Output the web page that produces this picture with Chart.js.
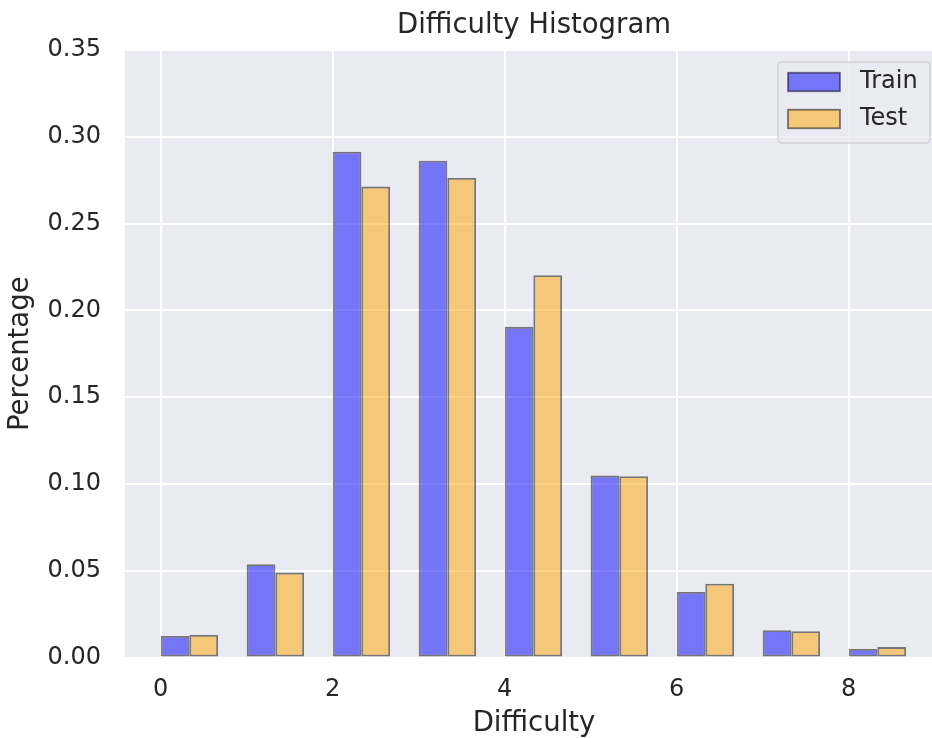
<!DOCTYPE html>
<html>
<head>
<meta charset="utf-8">
<script src="https://cdn.jsdelivr.net/npm/chart.js@4/dist/chart.umd.min.js"></script>
<style>
  html, body { margin: 0; padding: 0; background: #ffffff; overflow: hidden; }
  #wrap { width: 943px; height: 740px; }
</style>
</head>
<body>
<div id="wrap"><canvas id="c" width="943" height="740"></canvas></div>
<script>
// ---- data ----
const bins = [0, 1, 2, 3, 4, 5, 6, 7, 8];
const trainValues = [0.0124, 0.0537, 0.2914, 0.2862, 0.1905, 0.1048, 0.0377, 0.0157, 0.0049];
const testValues  = [0.0130, 0.0489, 0.2713, 0.2763, 0.2202, 0.1044, 0.0425, 0.0151, 0.0060];
const xTickValues = [0, 2, 4, 6, 8];
const yTickValues = [0, 0.05, 0.10, 0.15, 0.20, 0.25, 0.30, 0.35];
const seriesLabels = ['Train', 'Test'];
const titleText = 'Difficulty Histogram';
const xLabel = 'Difficulty';
const yLabel = 'Percentage';

// group of two bars starts at the bin value; group center = bin + 1/3
const groupCenters = bins.map(b => b + 1 / 3);

const FONT = 'DejaVu Sans';
const TEXT = '#262626';
const BG = '#EAEAF2';

const plotBg = {
  id: 'plotBg',
  beforeDraw(chart) {
    const { ctx, chartArea: a } = chart;
    ctx.save();
    ctx.fillStyle = BG;
    ctx.fillRect(a.left, a.top, a.right - a.left, a.bottom - a.top);
    ctx.restore();
  }
};

const insideLegend = {
  id: 'insideLegend',
  afterDatasetsDraw(chart) {
    const { ctx, chartArea: a } = chart;
    const w = 152, h = 81;
    const right = a.right - 13;
    const left = right - w;
    const top = a.top + 12;
    ctx.save();
    const r = 4;
    ctx.beginPath();
    ctx.moveTo(left + r, top);
    ctx.lineTo(left + w - r, top);
    ctx.quadraticCurveTo(left + w, top, left + w, top + r);
    ctx.lineTo(left + w, top + h - r);
    ctx.quadraticCurveTo(left + w, top + h, left + w - r, top + h);
    ctx.lineTo(left + r, top + h);
    ctx.quadraticCurveTo(left, top + h, left, top + h - r);
    ctx.lineTo(left, top + r);
    ctx.quadraticCurveTo(left, top, left + r, top);
    ctx.closePath();
    ctx.fillStyle = 'rgba(234,234,242,0.8)';
    ctx.fill();
    ctx.strokeStyle = 'rgba(204,204,204,0.8)';
    ctx.lineWidth = 1.3;
    ctx.stroke();
    chart.data.datasets.forEach((ds, k) => {
      const cy = top + 20 + k * 37;
      const px = left + 10, pw = 52, ph = 18.5;
      ctx.fillStyle = ds.backgroundColor;
      ctx.fillRect(px, cy - ph / 2, pw, ph);
      ctx.strokeStyle = ds.borderColor;
      ctx.lineWidth = 1.8;
      ctx.strokeRect(px, cy - ph / 2, pw, ph);
      ctx.fillStyle = TEXT;
      ctx.font = '24px "' + FONT + '"';
      ctx.textAlign = 'left';
      ctx.textBaseline = 'middle';
      ctx.fillText(ds.label, left + 82, cy);
    });
    ctx.restore();
  }
};

new Chart(document.getElementById('c'), {
  type: 'bar',
  data: {
    datasets: [
      {
        label: seriesLabels[0],
        data: groupCenters.map((x, i) => ({ x: x, y: trainValues[i] })),
        backgroundColor: 'rgba(0,0,255,0.5)',
        borderColor: 'rgba(0,0,0,0.5)',
        borderWidth: 1.8,
        borderSkipped: false
      },
      {
        label: seriesLabels[1],
        data: groupCenters.map((x, i) => ({ x: x, y: testValues[i] })),
        backgroundColor: 'rgba(255,165,0,0.5)',
        borderColor: 'rgba(0,0,0,0.5)',
        borderWidth: 1.8,
        borderSkipped: false
      }
    ]
  },
  options: {
    responsive: false,
    animation: false,
    devicePixelRatio: 1,
    categoryPercentage: 2 / 3,
    barPercentage: 1,
    layout: { padding: { left: 0, right: 0, top: 0, bottom: 0 } },
    plugins: {
      legend: { display: false },
      tooltip: { enabled: false },
      title: {
        display: true,
        fullSize: false,
        text: titleText,
        color: TEXT,
        font: { family: FONT, size: 27.5, weight: 'normal' },
        padding: { top: 9.5, bottom: 7.5 }
      }
    },
    scales: {
      x: {
        type: 'linear',
        offset: false,
        min: -0.415,
        max: 9.097,
        grid: { color: '#ffffff', lineWidth: 2, drawTicks: false, offset: false },
        border: { display: false },
        ticks: {
          color: TEXT,
          font: { family: FONT, size: 24 },
          padding: 18,
          maxRotation: 0,
          callback: v => String(v)
        },
        afterBuildTicks(scale) { scale.ticks = xTickValues.map(v => ({ value: v })); },
        afterFit(scale) { scale.height = 82.5; },
        title: {
          display: true,
          text: xLabel,
          color: TEXT,
          font: { family: FONT, size: 27.5 },
          padding: { top: 0, bottom: 0 }
        }
      },
      y: {
        type: 'linear',
        min: 0,
        max: 0.35,
        grid: { color: '#ffffff', lineWidth: 2, drawTicks: false },
        border: { display: false },
        ticks: {
          color: TEXT,
          font: { family: FONT, size: 24 },
          padding: 24,
          callback: v => Number(v).toFixed(2)
        },
        afterBuildTicks(scale) { scale.ticks = yTickValues.map(v => ({ value: v })); },
        afterFit(scale) { scale.width = 125; },
        title: {
          display: true,
          text: yLabel,
          color: TEXT,
          font: { family: FONT, size: 27.5 },
          padding: { top: 4, bottom: 0 }
        }
      }
    }
  },
  plugins: [plotBg, insideLegend]
});
</script>
</body>
</html>
